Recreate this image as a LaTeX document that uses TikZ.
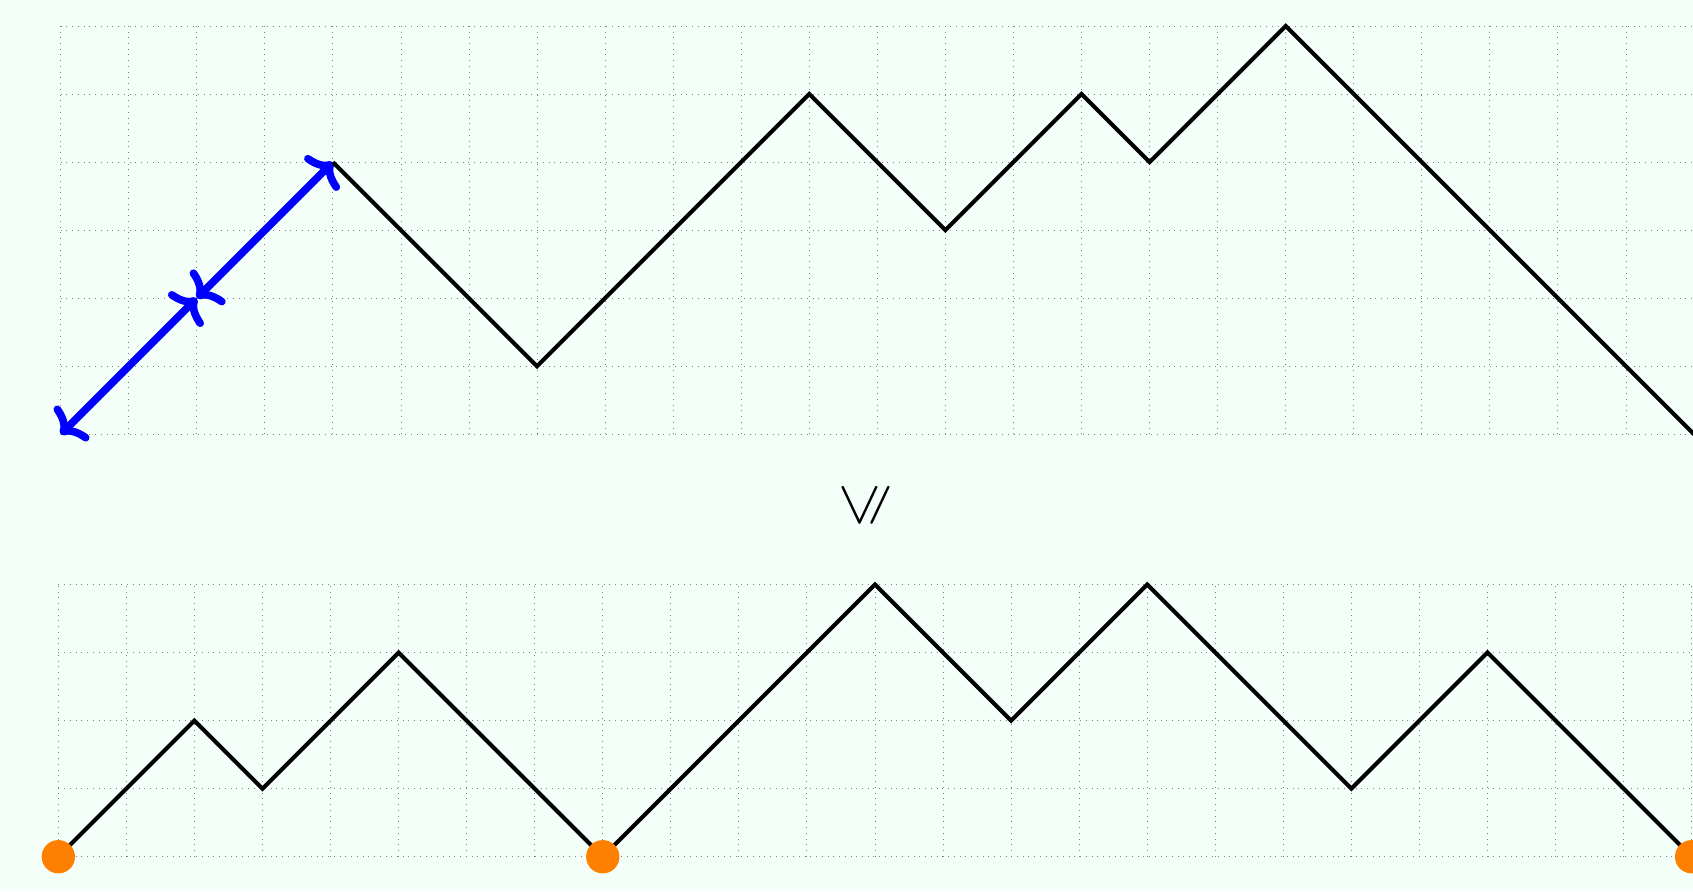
\documentclass[tikz,border=0pt]{standalone}
\usepackage{amssymb}
\usepackage{graphicx}
\usetikzlibrary{arrows.meta}
\definecolor{bg}{RGB}{245,255,250}
\definecolor{dotorange}{RGB}{255,128,0}
\begin{document}
\begin{tikzpicture}[x=1cm,y=1cm,
  gridline/.style={gray, dotted, line width=0.4pt},
  pathline/.style={black, line width=1.7pt},
  cmtip/.tip={Computer Modern Rightarrow[length=8pt,width=20pt,round]},
  bluearrow/.style={blue, line width=3.2pt, cmtip-cmtip},
  enddot/.style={circle, fill=dotorange, inner sep=0pt, minimum size=0.49cm}]
\fill[bg] (-0.857,-0.504) rectangle (24.02,12.589);
\useasboundingbox (-0.857,-0.504) rectangle (24.02,12.589);
% top path
\begin{scope}[shift={(0.035,6.207)}]
  \draw[gridline] (0,0) grid (24,6);
  \coordinate (t0) at (0,0);
  \coordinate (t1) at (2,2);
  \coordinate (t2) at (4,4);
  \draw[bluearrow] (t0) -- (t1);
  \draw[bluearrow] (t1) -- (t2);
  \draw[pathline] (t2) -- (7,1) -- (11,5) -- (13,3) -- (15,5) -- (16,4) -- (18,6) -- (24,0);
\end{scope}
% relation symbol
\node (rel) at (11.87,5.17) {\rotatebox{90}{\fontsize{26}{30}\selectfont$\leqslant$}};
% bottom path
\draw[gridline] (0,0) grid (24,4);
\draw[pathline] (0,0) -- (2,2) -- (3,1) -- (5,3) -- (8,0) -- (12,4) -- (14,2) -- (16,4) -- (19,1) -- (21,3) -- (24,0);
\node[enddot] (d0) at (0,0) {};
\node[enddot] (d1) at (8,0) {};
\node[enddot] (d2) at (24,0) {};
\end{tikzpicture}
\end{document}
